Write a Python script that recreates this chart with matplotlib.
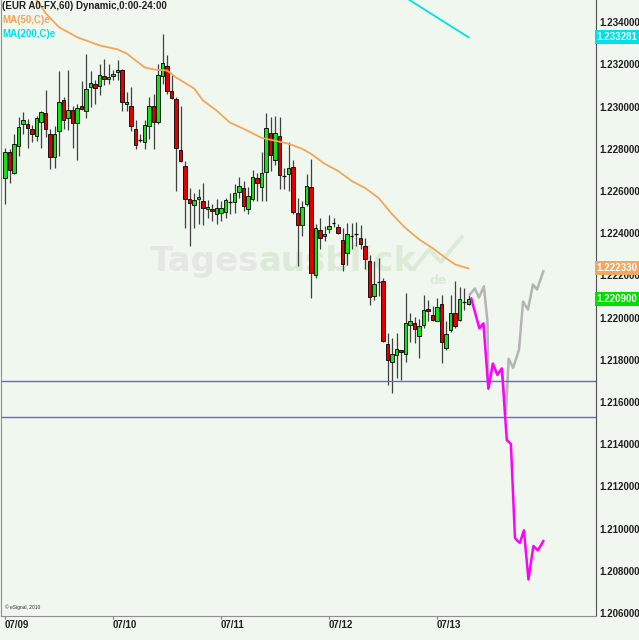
import numpy as np
import matplotlib.pyplot as plt
from matplotlib.transforms import blended_transform_factory

# hourly EUR/USD candles, 07/09 00:00 onward
opens = [
    1.22661, 1.22783, 1.22687, 1.22815, 1.22918, 1.22918, 1.22894, 1.22862, 1.22925, 1.22970,
    1.22870, 1.22762, 1.22886, 1.23032, 1.22946, 1.22984, 1.22921, 1.23002, 1.22981, 1.23092,
    1.23105, 1.23097, 1.23146, 1.23132, 1.23144, 1.23163, 1.23175, 1.23013, 1.23005, 1.22894,
    1.22842, 1.22830, 1.22906, 1.23005, 1.22925, 1.23143, 1.23191, 1.23076, 1.23037, 1.22795,
    1.22719, 1.22561, 1.22532, 1.22561, 1.22553, 1.22513, 1.22513, 1.22489, 1.22497, 1.22500,
    1.22548, 1.22548, 1.22597, 1.22613, 1.22513, 1.22561, 1.22661, 1.22619, 1.22691, 1.22875,
    1.22746, 1.22859, 1.22672, 1.22680, 1.22714, 1.22494, 1.22438, 1.22537, 1.22621, 1.22200,
    1.22413, 1.22386, 1.22418, 1.22449, 1.22429, 1.22370, 1.22305, 1.22386, 1.22394, 1.22375,
    1.22338, 1.22270, 1.22100, 1.22169, 1.22175, 1.21875, 1.21791, 1.21823, 1.21847, 1.21828,
    1.21966, 1.21973, 1.21915, 1.21966, 1.22040, 1.22010, 1.21985, 1.22066, 1.21854, 1.21940,
    1.22021, 1.21990, 1.22073, 1.22066,
]
highs = [
    1.22804, 1.22800, 1.22872, 1.22949, 1.22976, 1.22943, 1.22914, 1.22957, 1.22981, 1.23080,
    1.22894, 1.22910, 1.23168, 1.23044, 1.23175, 1.23005, 1.23013, 1.23119, 1.23248, 1.23168,
    1.23124, 1.23203, 1.23227, 1.23203, 1.23172, 1.23222, 1.23180, 1.23068, 1.23092, 1.22934,
    1.22870, 1.22934, 1.23044, 1.23061, 1.23203, 1.23343, 1.23243, 1.23148, 1.23044, 1.23005,
    1.22743, 1.22613, 1.22592, 1.22608, 1.22640, 1.22556, 1.22537, 1.22561, 1.22553, 1.22568,
    1.22592, 1.22632, 1.22667, 1.22648, 1.22619, 1.22699, 1.22687, 1.22783, 1.22970, 1.22949,
    1.22957, 1.22949, 1.22711, 1.22830, 1.22746, 1.22568, 1.22553, 1.22680, 1.22751, 1.22442,
    1.22473, 1.22434, 1.22486, 1.22470, 1.22442, 1.22426, 1.22449, 1.22449, 1.22454, 1.22438,
    1.22377, 1.22296, 1.22267, 1.22283, 1.22188, 1.21926, 1.21902, 1.21926, 1.21847, 1.22116,
    1.22021, 1.22005, 1.21994, 1.22109, 1.22085, 1.22053, 1.22092, 1.22109, 1.21982, 1.22109,
    1.22172, 1.22143, 1.22140, 1.22105,
]
lows = [
    1.22537, 1.22640, 1.22681, 1.22767, 1.22872, 1.22806, 1.22830, 1.22838, 1.22806, 1.22854,
    1.22704, 1.22708, 1.22767, 1.22894, 1.22889, 1.22806, 1.22746, 1.22984, 1.22946, 1.22997,
    1.23010, 1.23053, 1.23100, 1.23108, 1.23124, 1.23124, 1.22981, 1.22981, 1.22886, 1.22799,
    1.22830, 1.22799, 1.22846, 1.22799, 1.22918, 1.23108, 1.23061, 1.23037, 1.22600, 1.22735,
    1.22426, 1.22338, 1.22426, 1.22442, 1.22438, 1.22470, 1.22458, 1.22445, 1.22458, 1.22470,
    1.22489, 1.22497, 1.22568, 1.22505, 1.22492, 1.22553, 1.22553, 1.22553, 1.22553, 1.22696,
    1.22723, 1.22608, 1.22608, 1.22600, 1.22489, 1.22243, 1.22386, 1.22529, 1.22092, 1.22188,
    1.22323, 1.22362, 1.22402, 1.22429, 1.22397, 1.22219, 1.22251, 1.22324, 1.22338, 1.22324,
    1.22229, 1.22061, 1.22085, 1.22100, 1.21886, 1.21680, 1.21645, 1.21712, 1.21704, 1.21791,
    1.21886, 1.21878, 1.21807, 1.21950, 1.21982, 1.21982, 1.21982, 1.21786, 1.21847, 1.21934,
    1.21950, 1.21982, 1.22037, 1.22058,
]
closes = [
    1.22783, 1.22700, 1.22825, 1.22905, 1.22934, 1.22897, 1.22870, 1.22946, 1.22973, 1.22894,
    1.22759, 1.22870, 1.23024, 1.22937, 1.22984, 1.22923, 1.22992, 1.22989, 1.23084, 1.23113,
    1.23089, 1.23151, 1.23129, 1.23140, 1.23156, 1.23172, 1.23021, 1.23024, 1.22906, 1.22819,
    1.22842, 1.22914, 1.23005, 1.22925, 1.23148, 1.23208, 1.23076, 1.23040, 1.22806, 1.22743,
    1.22561, 1.22545, 1.22557, 1.22572, 1.22518, 1.22524, 1.22505, 1.22518, 1.22521, 1.22556,
    1.22548, 1.22589, 1.22624, 1.22529, 1.22577, 1.22668, 1.22637, 1.22683, 1.22899, 1.22770,
    1.22873, 1.22676, 1.22672, 1.22711, 1.22500, 1.22438, 1.22525, 1.22624, 1.22209, 1.22426,
    1.22378, 1.22397, 1.22432, 1.22449, 1.22402, 1.22256, 1.22394, 1.22386, 1.22394, 1.22347,
    1.22277, 1.22099, 1.22159, 1.22169, 1.21890, 1.21799, 1.21828, 1.21852, 1.21835, 1.21973,
    1.21985, 1.21945, 1.21962, 1.22034, 1.22029, 1.21990, 1.22051, 1.21886, 1.21924, 1.22021,
    1.21962, 1.22089, 1.22073, 1.22090,
]

# moving averages (bar index, price)
ma50_idx = [7, 9, 12, 16, 21, 25, 27, 29, 31, 33, 36, 38, 42, 44, 47, 50, 53, 57, 60, 63,
            66, 68, 71, 74, 77, 80, 83, 86, 89, 92, 95, 98, 100, 103]
ma50 = [1.23505, 1.23443, 1.23376, 1.23329, 1.23290, 1.23271, 1.23252, 1.23219, 1.23186, 1.23176,
        1.23171, 1.23138, 1.23086, 1.23029, 1.22981, 1.22924, 1.22895, 1.22852, 1.22838, 1.22824,
        1.22800, 1.22776, 1.22729, 1.22695, 1.22648, 1.22614, 1.22567, 1.22490, 1.22424, 1.22371,
        1.22329, 1.22281, 1.22252, 1.22233]
ma200_idx = [89.5, 103]
ma200 = [1.23510, 1.233281]

# projected paths
proj_gray_idx = [103.3, 104.4, 105.3, 106.4, 107.2, 107.4, 108.4, 109.4, 110.4, 111.3,
                 111.9, 112.9, 114.2, 115.1, 116.2, 117.3, 118.2, 119.6]
proj_gray = [1.22110, 1.22138, 1.22095, 1.22148, 1.21981, 1.21667, 1.21781, 1.21729, 1.21757, 1.21543,
             1.21805, 1.21762, 1.21848, 1.22076, 1.22038, 1.22157, 1.22133, 1.22219]
proj_mag_idx = [103.6, 105.4, 106.3, 107.4, 108.4, 109.4, 110.4, 111.1, 111.5, 112.4,
                113.3, 113.8, 114.4, 115.3, 116.3, 117.4, 118.4, 119.6]
proj_mag = [1.22090, 1.21949, 1.21973, 1.21663, 1.21782, 1.21729, 1.21759, 1.21538, 1.21419, 1.21401,
            1.20957, 1.20943, 1.20933, 1.20992, 1.20759, 1.20918, 1.20897, 1.20941]

hlines = [1.21700, 1.21529]
day_idx = [0, 24, 48, 72, 96]
day_labels = ['07/09', '07/10', '07/11', '07/12', '07/13']

BG = '#f0f7ef'
FONT = 'Liberation Sans'

fig = plt.figure(figsize=(6.39, 6.40), dpi=100, facecolor=BG)
ax = fig.add_axes([1 / 639, 24 / 640, 594.5 / 639, 616 / 640], facecolor=BG)

o = np.array(opens); h = np.array(highs); l = np.array(lows); c = np.array(closes)
x = np.arange(len(o))

ax.vlines(x, l, h, color='#404040', lw=0.9, zorder=2)
up = c > o
down = c < o
flat = c == o
ax.bar(x[up], (c - o)[up], bottom=o[up], width=0.75, color='#16e016',
       edgecolor='black', lw=0.6, zorder=3)
ax.bar(x[down], (o - c)[down], bottom=c[down], width=0.75, color='#e00000',
       edgecolor='black', lw=0.6, zorder=3)
ax.hlines(c[flat], x[flat] - 0.4, x[flat] + 0.4, color='black', lw=0.9, zorder=3)

ax.plot(ma50_idx, ma50, color='#f5a555', lw=1.3, zorder=4)
ax.plot(ma200_idx, ma200, color='#00e0e8', lw=1.3, zorder=4)
ax.plot(proj_gray_idx, proj_gray, color='#b4b4b4', lw=1.8, zorder=4)
ax.plot(proj_mag_idx, proj_mag, color='#ff00ff', lw=1.8, zorder=5)
for lvl in hlines:
    ax.axhline(lvl, color='#6464dc', lw=1.0, zorder=4)

ax.set_xlim(-0.89, 131.2)
ax.set_ylim(1.20586, 1.23505)

ax.yaxis.tick_right()
yt = np.arange(1.206, 1.2341, 0.002)
ax.set_yticks(yt)
ax.set_yticklabels(['%.6f' % v for v in yt], fontsize=7, fontweight='bold',
                   family=FONT, color='#202020')
ax.tick_params(axis='y', length=0, pad=3)
ax.set_xticks(day_idx)
ax.set_xticklabels(day_labels, fontsize=7, fontweight='bold', family=FONT,
                   color='#202020', ha='left')
ax.tick_params(axis='x', length=2, width=0.8, pad=1, color='#808080')

ax.spines['top'].set_visible(False)
ax.spines['left'].set_color('#909090')
ax.spines['bottom'].set_color('#909090')
ax.spines['right'].set_color('#505050')

# last-value tags on the price scale
trans = blended_transform_factory(ax.transAxes, ax.transData)
for val, txt, col in [(1.233281, '1.233281', '#00e0e8'),
                      (1.22233, '1.222330', '#f0a860'),
                      (1.2209, '1.220900', '#00e000')]:
    ax.text(1.002, val, txt, transform=trans, va='center', ha='left', fontsize=7,
            fontweight='bold', family=FONT, color='white', clip_on=False, zorder=6,
            bbox=dict(boxstyle='square,pad=0.2', fc=col, ec='none'))

# watermark
wm = ax.text(0.25, 0.575, 'Tages', transform=ax.transAxes, fontsize=24.5, fontweight='bold',
             family='DejaVu Sans', color='#e3e9e2', va='center', zorder=1)
ax.annotate('ausblick', xy=(1, 0.5), xycoords=wm, va='center', ha='left', fontsize=24.5,
            fontweight='bold', family='DejaVu Sans', color='#dcebd8', zorder=1)
ax.text(0.72, 0.545, 'de', transform=ax.transAxes, fontsize=9, fontweight='bold',
        family='DejaVu Sans', color='#dcebd8', va='center', zorder=1)
ax.plot([0.695, 0.72, 0.74, 0.775], [0.565, 0.595, 0.575, 0.615], transform=ax.transAxes,
        color='#dcebd8', lw=3, zorder=1)

# header
fig.text(2 / 639, 1 - 1 / 640, '(EUR A0-FX,60) Dynamic,0:00-24:00', fontsize=7,
         fontweight='bold', family=FONT, color='#202020', va='top')
fig.text(2 / 639, 1 - 15 / 640, 'MA(50,C)e', fontsize=7, fontweight='bold',
         family=FONT, color='#f5a555', va='top')
fig.text(2 / 639, 1 - 29 / 640, 'MA(200,C)e', fontsize=7, fontweight='bold',
         family=FONT, color='#00e0e8', va='top')
fig.text(5 / 639, 1 - 607 / 640, '\u00a9 eSignal, 2010', fontsize=3.5,
         family=FONT, color='#303030', va='center')

fig.savefig('out.png', dpi=100, facecolor=BG)
